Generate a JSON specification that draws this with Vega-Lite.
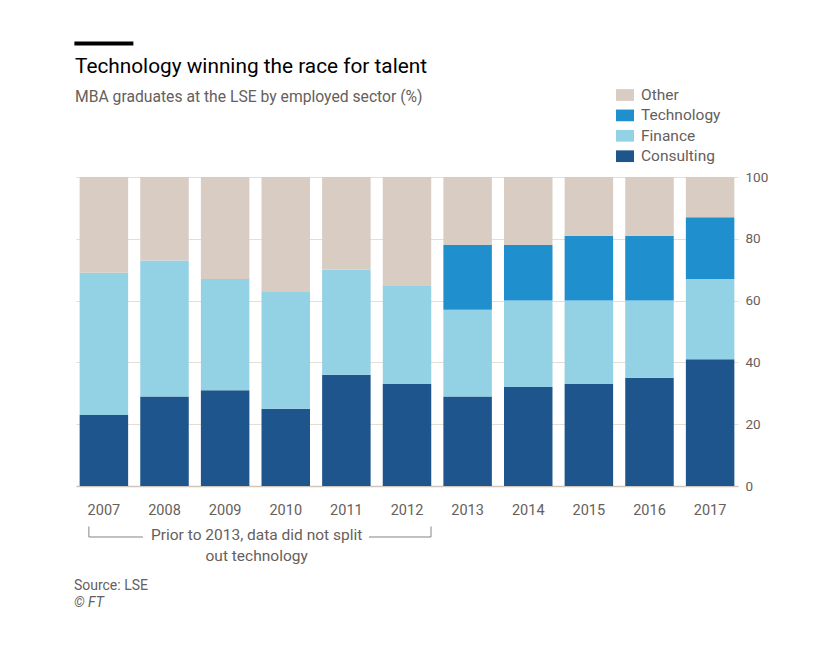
{
  "$schema": "https://vega.github.io/schema/vega-lite/v6.json",
  "width": 662,
  "height": 309,
  "autosize": {"type": "none"},
  "padding": {"left": 76, "top": 177, "right": 102, "bottom": 162},
  "background": "#ffffff",
  "config": {
    "view": {"stroke": null},
    "font": "Roboto",
    "text": {"font": "Roboto", "color": "#66605c"}
  },
  "title": {
    "text": "Technology winning the race for talent",
    "subtitle": "MBA graduates at the LSE by employed sector (%)",
    "anchor": "start",
    "frame": "group",
    "dx": -1,
    "offset": -64,
    "font": "Roboto",
    "fontSize": 20.8,
    "fontWeight": "normal",
    "color": "#000000",
    "subtitleFont": "Roboto",
    "subtitleFontSize": 15.7,
    "subtitleColor": "#66605c",
    "subtitlePadding": 12
  },
  "data": {
    "values": [
      {"year": "2007", "sector": "Consulting", "value": 23},
      {"year": "2007", "sector": "Finance", "value": 46},
      {"year": "2007", "sector": "Other", "value": 31},
      {"year": "2008", "sector": "Consulting", "value": 29},
      {"year": "2008", "sector": "Finance", "value": 44},
      {"year": "2008", "sector": "Other", "value": 27},
      {"year": "2009", "sector": "Consulting", "value": 31},
      {"year": "2009", "sector": "Finance", "value": 36},
      {"year": "2009", "sector": "Other", "value": 33},
      {"year": "2010", "sector": "Consulting", "value": 25},
      {"year": "2010", "sector": "Finance", "value": 38},
      {"year": "2010", "sector": "Other", "value": 37},
      {"year": "2011", "sector": "Consulting", "value": 36},
      {"year": "2011", "sector": "Finance", "value": 34},
      {"year": "2011", "sector": "Other", "value": 30},
      {"year": "2012", "sector": "Consulting", "value": 33},
      {"year": "2012", "sector": "Finance", "value": 32},
      {"year": "2012", "sector": "Other", "value": 35},
      {"year": "2013", "sector": "Consulting", "value": 29},
      {"year": "2013", "sector": "Finance", "value": 28},
      {"year": "2013", "sector": "Technology", "value": 21},
      {"year": "2013", "sector": "Other", "value": 22},
      {"year": "2014", "sector": "Consulting", "value": 32},
      {"year": "2014", "sector": "Finance", "value": 28},
      {"year": "2014", "sector": "Technology", "value": 18},
      {"year": "2014", "sector": "Other", "value": 22},
      {"year": "2015", "sector": "Consulting", "value": 33},
      {"year": "2015", "sector": "Finance", "value": 27},
      {"year": "2015", "sector": "Technology", "value": 21},
      {"year": "2015", "sector": "Other", "value": 19},
      {"year": "2016", "sector": "Consulting", "value": 35},
      {"year": "2016", "sector": "Finance", "value": 25},
      {"year": "2016", "sector": "Technology", "value": 21},
      {"year": "2016", "sector": "Other", "value": 19},
      {"year": "2017", "sector": "Consulting", "value": 41},
      {"year": "2017", "sector": "Finance", "value": 26},
      {"year": "2017", "sector": "Technology", "value": 20},
      {"year": "2017", "sector": "Other", "value": 13}
    ]
  },
  "encoding": {
    "x": {
      "field": "year",
      "type": "ordinal",
      "scale": {"paddingInner": 0.2, "paddingOuter": 0.06},
      "axis": {
        "title": null,
        "orient": "bottom",
        "ticks": false,
        "domain": true,
        "domainColor": "#cec6bd",
        "domainWidth": 1.5,
        "labelAngle": 0,
        "labelPadding": 17,
        "labelFont": "Roboto",
        "labelFontSize": 14.5,
        "labelColor": "#66605c"
      }
    }
  },
  "layer": [
    {
      "transform": [
        {"calculate": "indexof(['Consulting', 'Finance', 'Technology', 'Other'], datum.sector)", "as": "stack_order"}
      ],
      "mark": {"type": "bar"},
      "encoding": {
        "y": {
          "field": "value",
          "type": "quantitative",
          "stack": "zero",
          "scale": {"domain": [0, 100], "nice": false},
          "axis": {
            "title": null,
            "orient": "right",
            "values": [0, 20, 40, 60, 80, 100],
            "ticks": false,
            "domain": false,
            "grid": true,
            "gridColor": "#e6ddd3",
            "gridWidth": 1,
            "labelPadding": 7,
            "labelFont": "Roboto",
            "labelFontSize": 13.5,
            "labelColor": "#66605c"
          }
        },
        "color": {
          "field": "sector",
          "type": "nominal",
          "scale": {
            "domain": ["Other", "Technology", "Finance", "Consulting"],
            "range": ["#d9ccc3", "#1f8fcd", "#93d1e4", "#1e558c"]
          },
          "legend": {
            "title": null,
            "orient": "none",
            "legendX": 540,
            "legendY": -91,
            "symbolType": "M-1,-0.65H1V0.65H-1Z",
            "symbolSize": 324,
            "symbolStrokeWidth": 0,
            "labelFont": "Roboto",
            "labelFontSize": 15.5,
            "labelColor": "#66605c",
            "labelOffset": 7,
            "rowPadding": 2.4
          }
        },
        "order": {"field": "stack_order", "type": "quantitative"}
      }
    },
    {
      "data": {"values": [{}]},
      "mark": {"type": "tick", "color": "#000000", "opacity": 1, "size": 59, "thickness": 4, "orient": "horizontal"},
      "encoding": {
        "x": {"datum": "2007"},
        "y": {"datum": 143.2}
      }
    },
    {
      "data": {"values": [{}]},
      "mark": {"type": "rule", "color": "#8a8380", "strokeWidth": 1, "xOffset": -15},
      "encoding": {
        "x": {"datum": "2007"},
        "y": {"datum": -13.1},
        "y2": {"datum": -16.5}
      }
    },
    {
      "data": {"values": [{}]},
      "mark": {"type": "rule", "color": "#8a8380", "strokeWidth": 1, "xOffset": 24},
      "encoding": {
        "x": {"datum": "2012"},
        "y": {"datum": -13.1},
        "y2": {"datum": -16.5}
      }
    },
    {
      "data": {"values": [{}]},
      "mark": {"type": "rule", "color": "#8a8380", "strokeWidth": 1, "xOffset": -15, "x2Offset": 39},
      "encoding": {
        "x": {"datum": "2007"},
        "x2": {"datum": "2007"},
        "y": {"datum": -16.5}
      }
    },
    {
      "data": {"values": [{}]},
      "mark": {"type": "rule", "color": "#8a8380", "strokeWidth": 1, "xOffset": -38, "x2Offset": 24},
      "encoding": {
        "x": {"datum": "2012"},
        "x2": {"datum": "2012"},
        "y": {"datum": -16.5}
      }
    },
    {
      "data": {"values": [{}]},
      "mark": {
        "type": "text",
        "align": "center",
        "baseline": "middle",
        "fontSize": 15.5,
        "lineHeight": 21,
        "color": "#66605c",
        "xOffset": 31.5
      },
      "encoding": {
        "x": {"datum": "2009"},
        "y": {"datum": -16.0},
        "text": {"value": ["Prior to 2013, data did not split", "out technology"]}
      }
    },
    {
      "data": {"values": [{}]},
      "mark": {
        "type": "text",
        "align": "left",
        "baseline": "middle",
        "fontSize": 14,
        "color": "#66605c",
        "xOffset": -30
      },
      "encoding": {
        "x": {"datum": "2007"},
        "y": {"datum": -32.4},
        "text": {"value": "Source: LSE"}
      }
    },
    {
      "data": {"values": [{}]},
      "mark": {
        "type": "text",
        "align": "left",
        "baseline": "middle",
        "fontSize": 14,
        "fontStyle": "italic",
        "color": "#66605c",
        "xOffset": -30
      },
      "encoding": {
        "x": {"datum": "2007"},
        "y": {"datum": -38.0},
        "text": {"value": "© FT"}
      }
    }
  ]
}
